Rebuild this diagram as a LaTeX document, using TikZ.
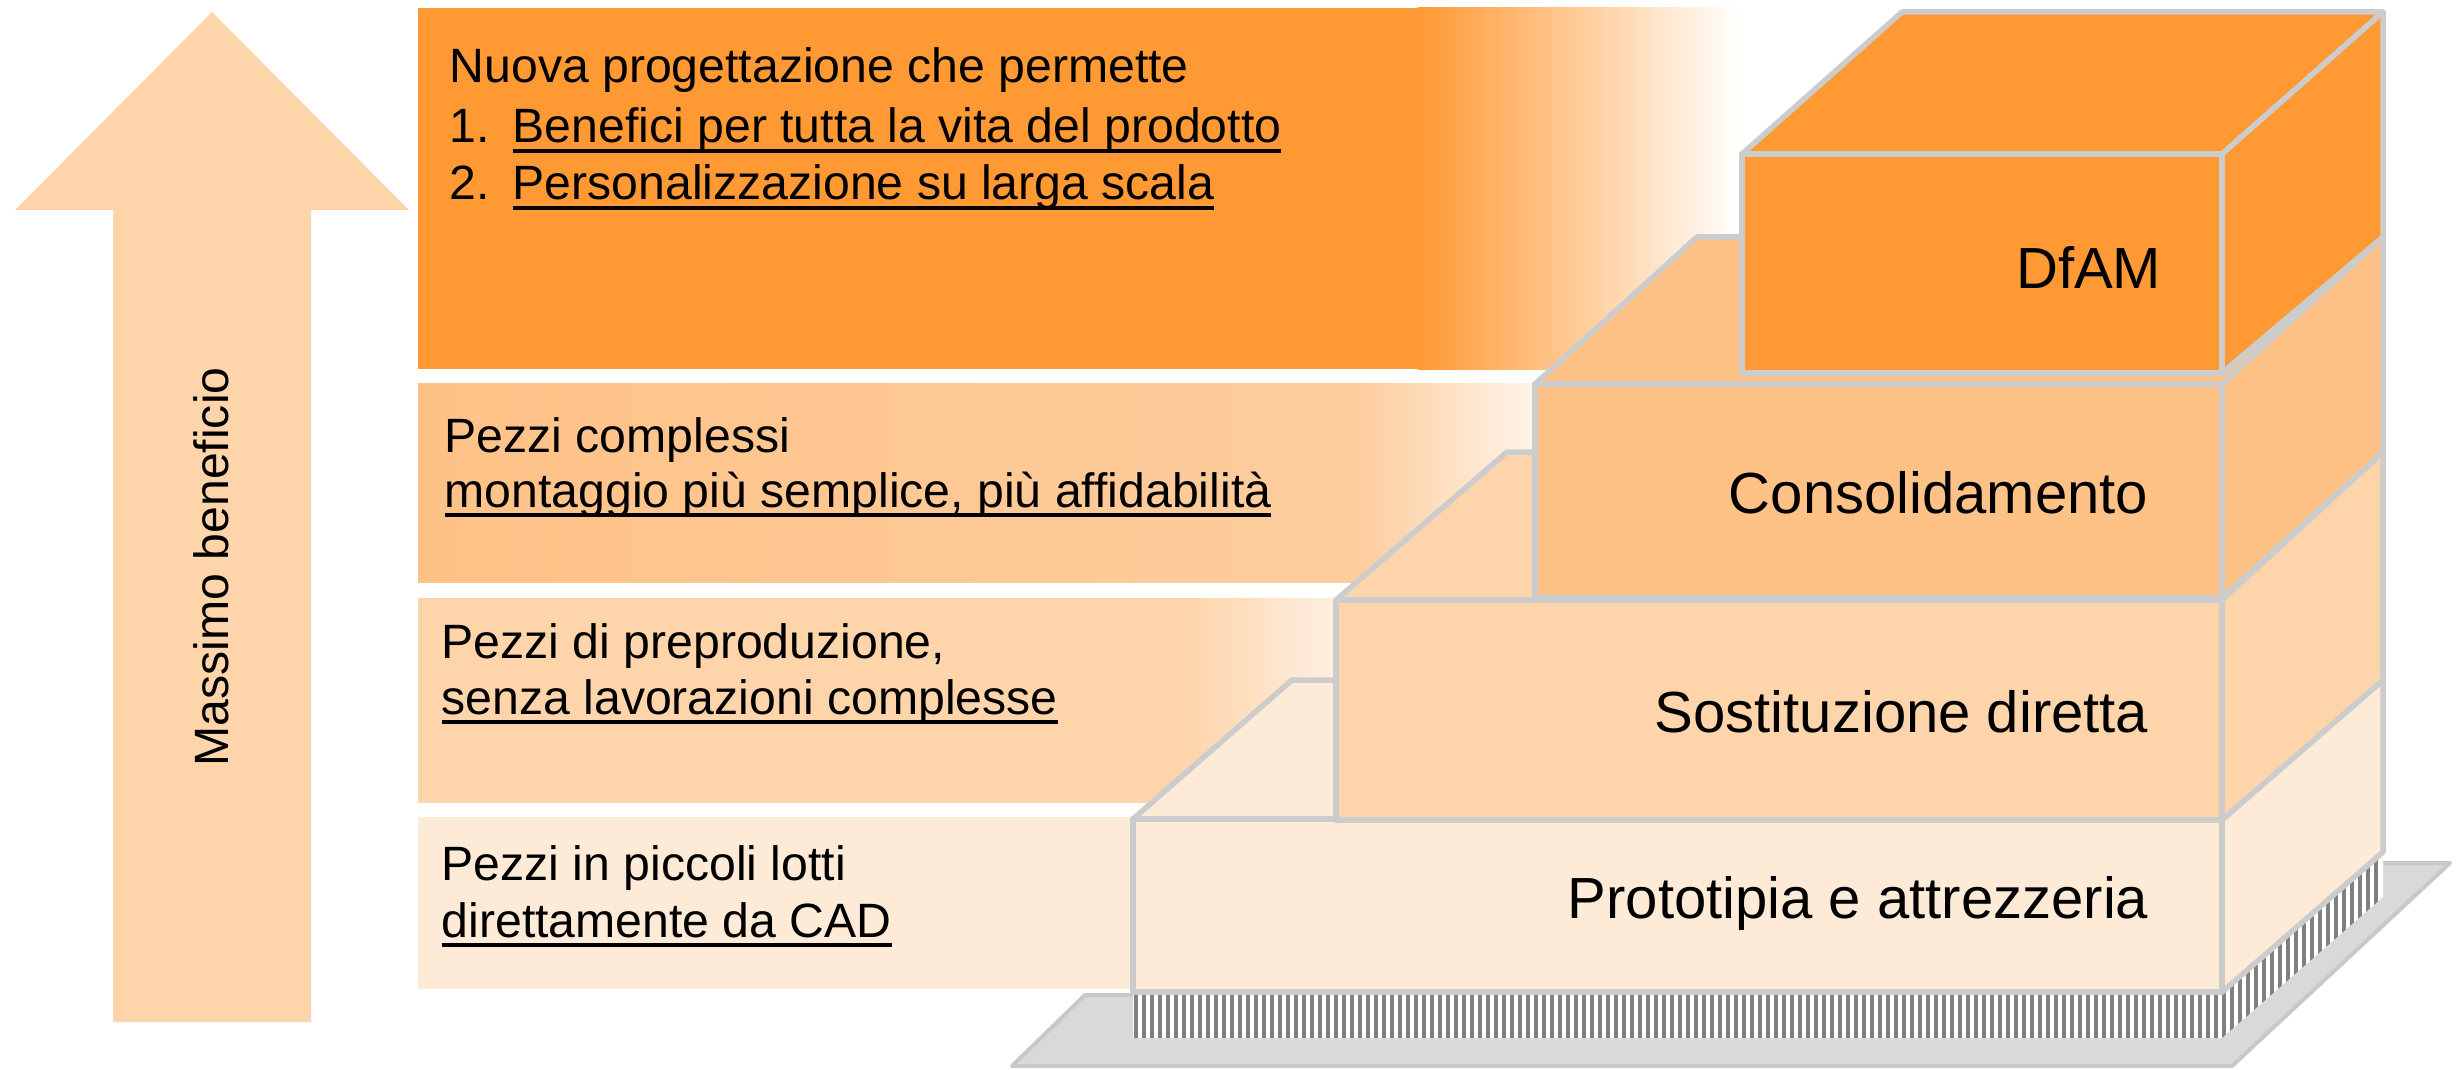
\documentclass[tikz,border=0pt]{standalone}
\usepackage{fontspec}
\setmainfont{Liberation Sans}
\usetikzlibrary{positioning,calc}
\definecolor{dfamOrange}{HTML}{FF9933}
\definecolor{consFill}{HTML}{FEC287}
\definecolor{consLight}{HTML}{FDCD9E}
\definecolor{consFade}{HTML}{FFF4E8}
\definecolor{sostFill}{HTML}{FED5AB}
\definecolor{sostFade}{HTML}{FEF0E1}
\definecolor{protoFill}{HTML}{FEEBD7}
\definecolor{edgeGray}{HTML}{CCCCCC}
\definecolor{baseFill}{HTML}{D9D9D9}
\definecolor{baseEdge}{HTML}{C8C8C8}
\definecolor{hatchGray}{HTML}{808080}
\newcommand{\lineunder}[1]{\sbox0{#1}\rlap{\rule[-0.2em]{\wd0}{0.07em}}\usebox0}
\tikzset{
  face/.style={draw=edgeGray, line width=0.055cm, line join=round, fill=#1},
  platform/.style={draw=baseEdge, fill=baseFill, line width=0.04cm, line join=round},
  stripe/.style={draw=hatchGray, line width=0.035cm},
  bartext/.style={font=\fontsize{13.7}{16}\selectfont, inner sep=0pt, anchor=base west},
  steplabel/.style={font=\fontsize{16.5}{19}\selectfont, inner sep=0pt, anchor=base east}
}
\begin{document}
\begin{tikzpicture}[x=0.01cm, y=-0.01cm]
\useasboundingbox (0,0) rectangle (2463,1070);
\fill[sostFill] (212,12) -- (409,210) -- (311,210) -- (311,1022) -- (113,1022) -- (113,210) -- (15,210) -- cycle;
\node[bartext, rotate=90] (benefit) at (228,767) {Massimo beneficio};
\fill[dfamOrange] (418,8) rectangle (1420,369);
\shade[left color=dfamOrange, right color=white] (1418,8) rectangle (1740,369);
\shade[left color=consFill, right color=consLight] (418,383) rectangle (1360,582);
\shade[left color=consLight, right color=consFade] (1358,383) rectangle (1535,582);
\fill[sostFill] (418,598) rectangle (1192,803);
\shade[left color=sostFill, right color=sostFade] (1190,598) rectangle (1336,803);
\fill[protoFill] (418,817) rectangle (1134,989);
\node[bartext] (newdesign) at (449,83) {Nuova progettazione che permette};
\node[bartext] (item1) at (449,143) {\makebox[0.63cm][l]{1.}\lineunder{Benefici per tutta la vita del prodotto}};
\node[bartext] (item2) at (449,200) {\makebox[0.63cm][l]{2.}\lineunder{Personalizzazione su larga scala}};
\node[bartext] (complex) at (444,452) {Pezzi complessi};
\node[bartext] (assembly) at (444,507) {\lineunder{montaggio più semplice, più affidabilità}};
\node[bartext] (preprod) at (441,658) {Pezzi di preproduzione,};
\node[bartext] (nomachining) at (441,714) {\lineunder{senza lavorazioni complesse}};
\node[bartext] (smallbatch) at (441,880) {Pezzi in piccoli lotti};
\node[bartext] (fromcad) at (441,937) {\lineunder{direttamente da CAD}};
\filldraw[platform] (1012,1066) -- (1085,995) -- (2250,995) -- (2383,863) -- (2450,863) -- (2232,1066) -- cycle;
\begin{scope}
\clip (1133,992) -- (2222,992) -- (2383,852) -- (2383,897) -- (2222,1038) -- (1133,1038) -- cycle;
\fill[white] (1100,840) rectangle (2400,1040);
\foreach \x in {1136,1144,...,2383} \draw[stripe] (\x,840) -- (\x,1040);
\end{scope}
\draw[face=protoFill] (1133,819) -- (2222,819) -- (2383,680) -- (1292,680) -- cycle;
\draw[face=protoFill] (2222,819) -- (2383,680) -- (2383,852) -- (2222,992) -- cycle;
\draw[face=protoFill] (1133,819) rectangle (2222,992);
\node[steplabel] (proto) at (2149,918) {Prototipia e attrezzeria};
\draw[face=sostFill] (1336,600) -- (2222,600) -- (2383,452) -- (1507,452) -- cycle;
\draw[face=sostFill] (2222,600) -- (2383,452) -- (2383,680) -- (2222,820) -- cycle;
\draw[face=sostFill] (1336,600) rectangle (2222,820);
\node[steplabel] (sost) at (2149,732) {Sostituzione diretta};
\draw[face=consFill] (1535,384) -- (2222,384) -- (2383,237) -- (1697,237) -- cycle;
\draw[face=consFill] (2222,384) -- (2383,237) -- (2383,452) -- (2222,598) -- cycle;
\draw[face=consFill] (1535,384) rectangle (2222,598);
\node[steplabel] (cons) at (2149,513) {Consolidamento};
\draw[face=dfamOrange] (1742,154) -- (2222,154) -- (2383,12) -- (1902,12) -- cycle;
\draw[face=dfamOrange] (2222,154) -- (2383,12) -- (2383,237) -- (2222,373) -- cycle;
\draw[face=dfamOrange] (1742,154) rectangle (2222,373);
\node[steplabel] (dfam) at (2162,288) {DfAM};
\end{tikzpicture}
\end{document}
